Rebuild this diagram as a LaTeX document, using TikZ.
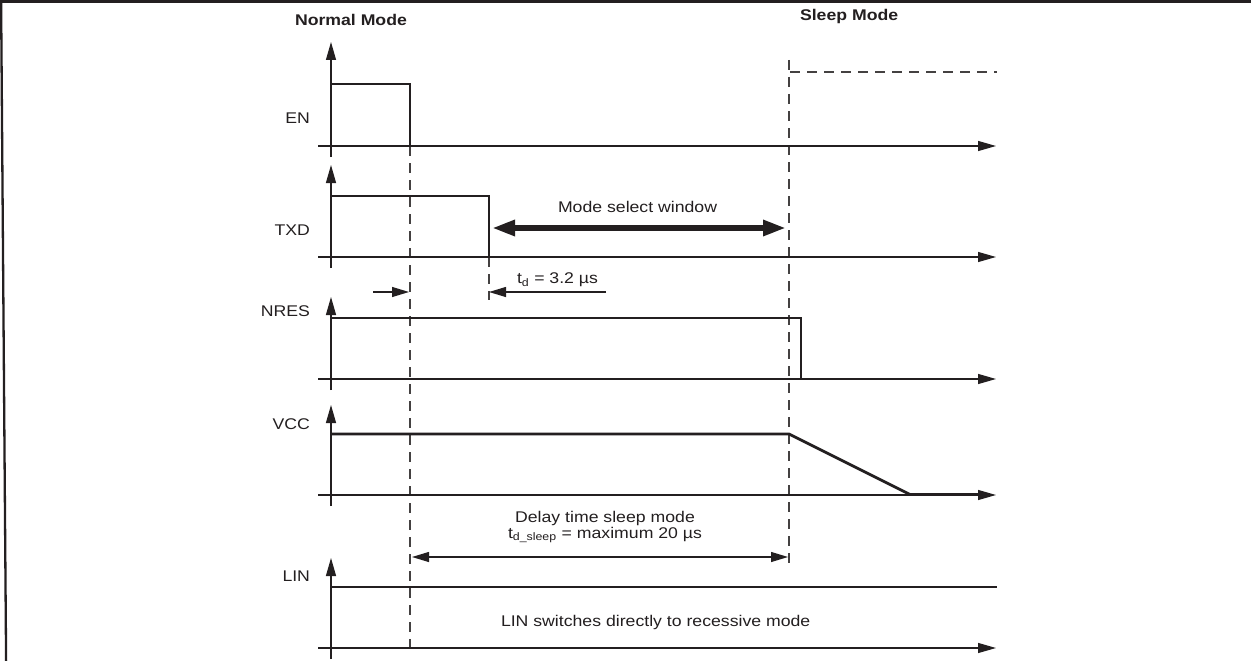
\documentclass[tikz,border=0pt]{standalone}
\usepackage{fontspec}
\setmainfont{Liberation Sans}
\usepackage{graphicx}
\usetikzlibrary{arrows.meta}
\definecolor{ink}{HTML}{231F20}
\newcommand{\tx}[1]{\scalebox{1.14}[1]{#1}}
\begin{document}
\begin{tikzpicture}[x=1pt,y=-1pt,
  lbl/.style={inner sep=0pt, outer sep=0pt, font=\fontsize{15.5}{18}\selectfont, text=ink},
  blbl/.style={lbl, font=\fontsize{15.5}{18}\selectfont\bfseries},
  axis/.style={draw=ink, line width=1.2pt},
  axarrow/.style={axis, -{Triangle[length=18pt,width=10pt]}},
  sig/.style={draw=ink, line width=2.7pt, line join=miter},
  guide/.style={draw=ink!85, line width=1.2pt, dash pattern=on 10pt off 7pt},
  dim/.style={draw=ink, line width=1.1pt},
  dimarrow/.style={dim, -{Triangle[length=17pt,width=10pt]}},
  dimboth/.style={dim, {Triangle[length=17pt,width=10pt]}-{Triangle[length=17pt,width=10pt]}},
  bigarrow/.style={draw=ink, line width=6pt, {Triangle[length=23pt,width=15pt]}-{Triangle[length=23pt,width=15pt]}},
]
\fill[white] (0,0) rectangle (1251,661);
\useasboundingbox (0,0) rectangle (1251,661);

% frame
\draw[ink, line width=2.7pt] (0,1.35) -- (1251,1.35);
\draw[ink, line width=2.3pt] (1.1,0) -- (6.1,661);

% mode titles
\node[blbl, anchor=base west] (normal) at (295,25.7) {\tx{Normal Mode}};
\node[blbl, anchor=base west] (sleep) at (800,21) {\tx{Sleep Mode}};

% guide lines (dashed)
\coordinate (gA1) at (410,146);
\coordinate (gA2) at (410,648);
\coordinate (gB1) at (789,60);
\coordinate (gB2) at (789,568);
\coordinate (gH1) at (790,72);
\coordinate (gH2) at (997,72);
\coordinate (gT1) at (489,257);
\coordinate (gT2) at (489,300);
\draw[guide] (gA1) -- (gA2);
\draw[guide] (gB1) -- (gB2);
\draw[guide] (gH1) -- (gH2);
\draw[guide] (gT1) -- (gT2);

% axes: name / tip / base
\foreach \n/\tip/\base in {EN/42/146, TXD/165/257, NRES/297/379, VCC/405/495, LIN/558/648}{
  \coordinate (\n-h0) at (318,\base);
  \coordinate (\n-h1) at (996,\base);
  \coordinate (\n-v0) at (331,\base+11);
  \coordinate (\n-v1) at (331,\tip);
  \draw[axarrow] (\n-h0) -- (\n-h1);
  \draw[axarrow] (\n-v0) -- (\n-v1);
}

% signal labels
\node[lbl, anchor=base east] (lEN) at (310,123.3) {\tx{EN}};
\node[lbl, anchor=base east] (lTXD) at (310,235.7) {\tx{TXD}};
\node[lbl, anchor=base east] (lNRES) at (310,316.7) {\tx{NRES}};
\node[lbl, anchor=base east] (lVCC) at (310,429) {\tx{VCC}};
\node[lbl, anchor=base east] (lLIN) at (310,581) {\tx{LIN}};

% signals
\draw[sig] (331,84) -- (410,84) -- (410,146) -- (980,146);
\draw[sig] (331,196) -- (489,196) -- (489,257) -- (980,257);
\draw[sig] (331,318) -- (801,318) -- (801,379) -- (980,379);
\draw[sig] (331,434) -- (789,434) -- (910,494.5) -- (980,494.5);
\draw[sig] (331,587) -- (997,587);

% mode select window
\coordinate (msL) at (492,228);
\coordinate (msR) at (786,228);
\draw[bigarrow] (msL) -- (msR);
\node[lbl, anchor=base west] (msText) at (558,212.7) {\tx{Mode select window}};

% t_d
\coordinate (tdA0) at (373,292);
\coordinate (tdA1) at (409,292);
\coordinate (tdB0) at (606,292);
\coordinate (tdB1) at (489,292);
\draw[dimarrow] (tdA0) -- (tdA1);
\draw[dimarrow] (tdB0) -- (tdB1);
\node[lbl, anchor=base west] (tdText) at (517,283.3) {\tx{t\textsubscript{d} = 3.2 µs}};

% delay time sleep mode
\coordinate (dL) at (412,557);
\coordinate (dR) at (788,557);
\draw[dimboth] (dL) -- (dR);
\node[lbl, anchor=base] (dText1) at (605,522) {\tx{Delay time sleep mode}};
\node[lbl, anchor=base] (dText2) at (605,538) {\tx{t\textsubscript{d\_sleep} = maximum 20 µs}};

% LIN note
\node[lbl, anchor=base west] (linText) at (501,626) {\tx{LIN switches directly to recessive mode}};
\end{tikzpicture}
\end{document}
